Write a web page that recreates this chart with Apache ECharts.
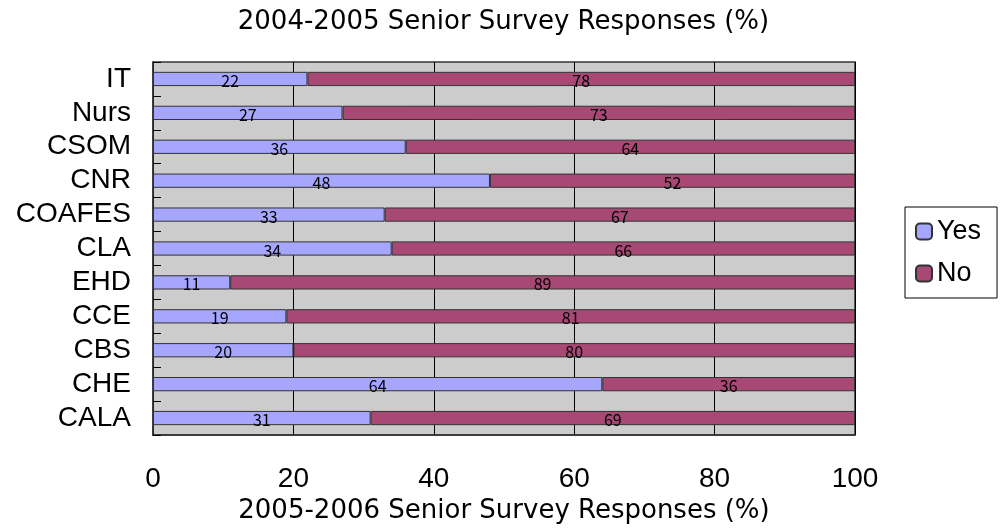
<!DOCTYPE html>
<html><head><meta charset="utf-8">
<script src="https://cdn.jsdelivr.net/npm/echarts@6/dist/echarts.min.js"></script>
<style>html,body{margin:0;padding:0;background:#fff}#c{width:1007px;height:529px}</style>
</head><body><div id="c"></div>
<script>
const categories = ['IT','Nurs','CSOM','CNR','COAFES','CLA','EHD','CCE','CBS','CHE','CALA'];
const yesValues = [22,27,36,48,33,34,11,19,20,64,31];
const noValues  = [78,73,64,52,67,66,89,81,80,36,69];
const xTicks = [0,20,40,60,80,100];

const FONT = '"Liberation Sans", Arial, sans-serif';
const WIDE = '"DejaVu Sans", sans-serif';
const chart = echarts.init(document.getElementById('c'));
const labelCfg = {show:true, position:'inside', offset:[0,2], color:'#000', fontSize:16, fontFamily:'"Noto Sans CJK JP", sans-serif'};
chart.setOption({
  animation:false,
  title:{text:'2004-2005 Senior Survey Responses (%)', left:'center', top:4,
    textStyle:{fontSize:26, fontWeight:'normal', color:'#000', fontFamily:WIDE}},
  legend:{orient:'vertical', left:905, top:207, width:93, itemWidth:16, itemHeight:16, itemGap:15,
    padding:[11,16,11,10], borderColor:'#000', borderWidth:1, backgroundColor:'#fff',
    textStyle:{fontSize:27, color:'#000', fontFamily:FONT},
    data:['Yes','No']},
  grid:{left:153, right:152, top:62, bottom:93, show:true, backgroundColor:'#cccccc', borderColor:'#333', borderWidth:1.5},
  xAxis:{type:'value', min:0, max:100, interval:20,
    name:'2005-2006 Senior Survey Responses (%)', nameLocation:'middle', nameGap:63,
    nameTextStyle:{fontSize:26, color:'#000', fontFamily:WIDE},
    axisLine:{show:true, lineStyle:{color:'#333', width:1.5}}, axisTick:{show:false},
    axisLabel:{fontSize:28, color:'#000', margin:30, fontFamily:FONT, formatter:v=>xTicks.includes(v)?String(v):''},
    splitLine:{show:true, lineStyle:{color:'#000', width:1}}},
  yAxis:{type:'category', inverse:true, data:categories,
    axisLine:{show:true, lineStyle:{color:'#333', width:1.5}},
    axisTick:{show:true, inside:true, length:8, lineStyle:{color:'#000'}},
    axisLabel:{interval:0, fontSize:28, color:'#000', margin:22, padding:[10,0,0,0], fontFamily:FONT}},
  series:[
    {name:'Yes', type:'bar', stack:'s', data:yesValues, barCategoryGap:'58%',
      itemStyle:{color:'#a6a6ff', borderColor:'#333', borderWidth:1}, label:labelCfg},
    {name:'No', type:'bar', stack:'s', data:noValues,
      itemStyle:{color:'#a84874', borderColor:'#333', borderWidth:1}, label:labelCfg}
  ]
});
</script></body></html>
